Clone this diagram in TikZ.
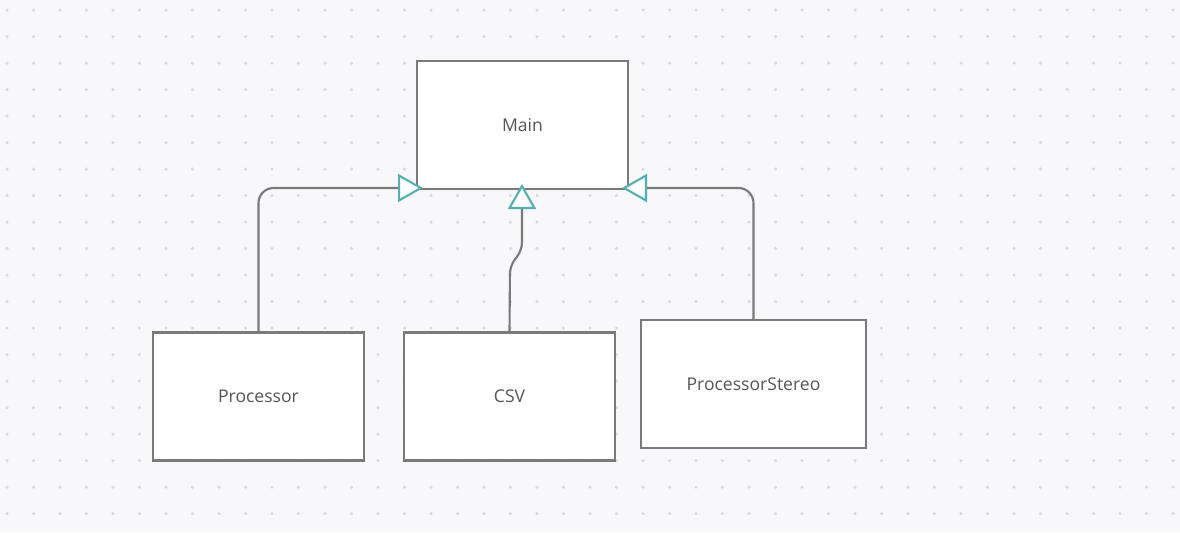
\documentclass[tikz,border=0pt]{standalone}
\usepackage{fontspec}
\setmainfont{Open Sans}
\usetikzlibrary{arrows.meta, positioning}
\definecolor{boardbg}{RGB}{248, 248, 250}
\definecolor{griddot}{RGB}{218, 218, 222}
\definecolor{boxline}{RGB}{122, 122, 122}
\definecolor{inherit}{RGB}{79, 178, 176}
\definecolor{labeltext}{RGB}{85, 85, 85}

\tikzset{
  classbox/.style={draw=boxline, fill=white, line width=1.2pt, minimum width=4.22cm, minimum height=2.56cm, font=\fontsize{10}{12}\selectfont, text=labeltext},
  extends/.style={draw=boxline, line width=1.2pt, rounded corners=0.3cm, -{Triangle[open, fill=white, length=0.5cm, width=0.56cm, color=inherit, line width=1.2pt]}}
}

\begin{document}
\begin{tikzpicture}[x=0.02cm, y=-0.02cm]
        % board
        \fill[boardbg] (0,0) rectangle (1180,532);
        \useasboundingbox (0,0) rectangle (1180,532);
        \foreach \i in {0,...,44}
          \foreach \j in {0,...,19}
            \fill[griddot] (7+26.5*\i, 10+26.5*\j) circle (0.035cm);

        % Classes
        \node[classbox] (main) at (522.5,125) {Main};
        \node[classbox] (proc) at (258.5,396.5) {Processor};
        \node[classbox] (csv) at (509.5,396.5) {CSV};
        \node[classbox, minimum width=4.5cm] (stereo) at (753.5,384) {ProcessorStereo};

        % Arrow tips on Main
        \coordinate (tipL) at (423,188);
        \coordinate (tipM) at (522,184);
        \coordinate (tipR) at (622,188);

        % Inheritance
        \draw[extends] (proc.north) |- (tipL);
        \draw[extends] (stereo.north) |- (tipR);
        \draw[extends, rounded corners=0.15cm] (csv.north) -- (510,266) -- (522,250) -- (tipM);
\end{tikzpicture}
\end{document}
